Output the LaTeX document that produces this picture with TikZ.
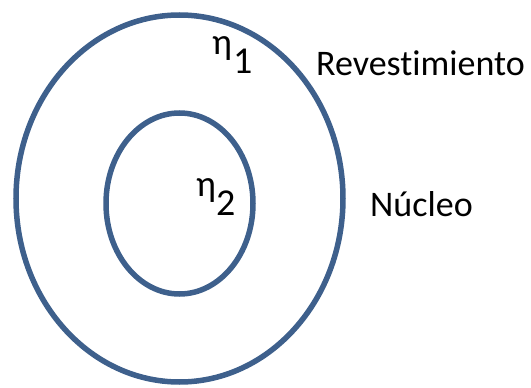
\documentclass[tikz,border=0pt]{standalone}
\usepackage{fontspec}
\setmainfont{Carlito}[Ligatures={NoCommon}]
\usetikzlibrary{shapes.geometric}
\definecolor{ringblue}{RGB}{62,96,140}
\tikzset{
  ring/.style={ellipse, draw=ringblue, line width=5.5pt, inner sep=0pt},
  lbl/.style={anchor=base west, inner sep=0pt, font=\fontsize{36}{40}\selectfont},
  idx/.style={anchor=base west, inner sep=0pt, font=\fontsize{38}{40}\selectfont}
}
\newcommand{\etaraised}{{\fontsize{37}{37}\selectfont\raisebox{19pt}{η}}}
\begin{document}
\begin{tikzpicture}[x=1pt,y=-1pt]
\useasboundingbox (0,0) rectangle (531,388);
\node[ring, minimum width=327pt, minimum height=367pt] (outer) at (179.5,198.5) {};
\node[ring, minimum width=147pt, minimum height=181pt] (inner) at (179.5,203.5) {};
\node[idx] (n1) at (212,73) {\etaraised\kern1pt 1};
\node[idx] (n2) at (196,215) {\etaraised\kern0pt 2};
\node[lbl] (rev) at (316,75) {Revestimiento};
\node[lbl] (nuc) at (370,216) {Núcleo};
\end{tikzpicture}
\end{document}
